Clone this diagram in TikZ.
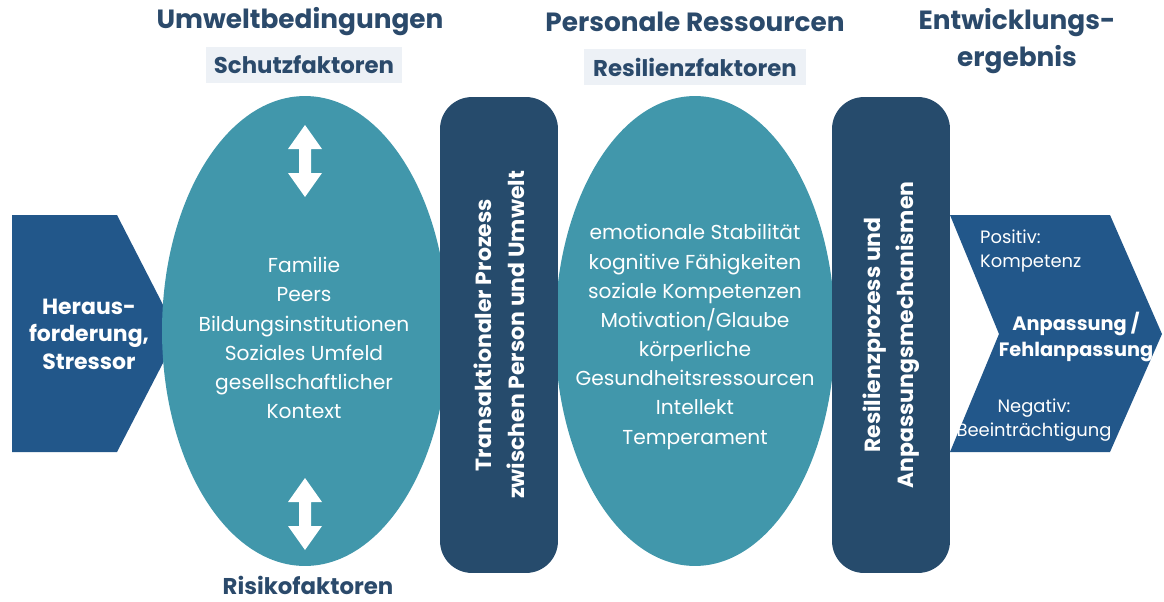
\documentclass[tikz,border=0pt]{standalone}
\usepackage{fontspec}
\setmainfont{Poppins}
\usetikzlibrary{shapes.geometric}
\definecolor{chevblue}{HTML}{22578A}
\definecolor{procblue}{HTML}{264B6C}
\definecolor{ovalteal}{HTML}{4197AB}
\definecolor{headblue}{HTML}{2B4A6B}
\definecolor{tagbg}{HTML}{EDF1F6}

\begin{document}
\begin{tikzpicture}[x=0.02cm, y=-0.02cm,
		head/.style={text=headblue, align=center, font=\fontsize{15}{21}\selectfont\bfseries},
		tag/.style={fill=tagbg, text=headblue, minimum height=0.72cm, font=\fontsize{13}{15}\selectfont\bfseries},
		oval/.style={ellipse, fill=ovalteal, minimum width=5.72cm, minimum height=9.4cm, inner sep=0pt},
		oneliner/.style={text=white, align=center, font=\fontsize{11.5}{16.6}\selectfont},
		proc/.style={fill=procblue, rounded corners=0.64cm, rotate=90, minimum width=9.52cm, minimum height=2.36cm,
			text=white, align=center, font=\fontsize{12.5}{18.7}\selectfont\bfseries},
		boldwhite/.style={text=white, align=center, font=\fontsize{11}{15.3}\selectfont\bfseries},
		smallwhite/.style={text=white, font=\fontsize{10.2}{13.6}\selectfont}]
	\useasboundingbox (0,0) rectangle (1164,602);
	% challenge arrow
	\fill[chevblue] (12,215) -- (117,215) -- (178,334) -- (117,452) -- (12,452) -- cycle;
	\node[boldwhite, font=\fontsize{12.5}{15.6}\selectfont\bfseries] (stressor) at (89,334) {Heraus-\\forderung,\\Stressor};
	% outcome chevron
	\fill[chevblue] (950,215) -- (1110,215) -- (1162,334) -- (1110,452) -- (950,452) -- (999,334) -- cycle;
	% ellipses
	\node[oval] (umwelt) at (305,331) {};
	\node[oval, minimum width=5.6cm] (person) at (695,331) {};
	\node[oneliner] (umweltlist) at (304,338)
		{Familie\\Peers\\Bildungsinstitutionen\\Soziales Umfeld\\gesellschaftlicher\\Kontext};
	\node[oneliner] (personlist) at (695,337)
		{emotionale Stabilität\\kognitive Fähigkeiten\\soziale Kompetenzen\\Motivation/Glaube\\körperliche\\Gesundheitsressourcen\\Intellekt\\Temperament};
	% double arrows
	\foreach \y [count=\i] in {125,478}
	{
		\fill[white] (305,\y) -- (322,\y+24) -- (311,\y+24) -- (311,\y+48) -- (322,\y+48) -- (305,\y+72)
			-- (288,\y+48) -- (299,\y+48) -- (299,\y+24) -- (288,\y+24) -- cycle;
	}
	% process bars
	\node[proc] (trans) at (499,335) {Transaktionaler Prozess\\zwischen Person und Umwelt};
	\node[proc] (resil) at (891,335) {Resilienzprozess und\\Anpassungsmechanismen};
	% outcome labels
	\node[smallwhite, align=left, anchor=west] (positiv) at (974,251) {Positiv:\\Kompetenz};
	\node[boldwhite] (anpassung) at (1076,337) {Anpassung /\\Fehlanpassung};
	\node[smallwhite, align=center] (negativ) at (1034,420) {Negativ:\\Beeinträchtigung};
	% headings
	\node[head] (umwelthead) at (300,22) {Umweltbedingungen};
	\node[tag, minimum width=3.94cm] (schutz) at (304,65) {Schutzfaktoren};
	\node[head] (personhead) at (695,22) {Personale Ressourcen};
	\node[tag, minimum width=4.46cm] (resilienz) at (695,67) {Resilienzfaktoren};
	\node[head] (ergebnis) at (1017,41) {Entwicklungs-\\ergebnis};
	\node[text=headblue, inner sep=0pt, font=\fontsize{13}{15}\selectfont\bfseries] (risiko) at (308,585) {Risikofaktoren};
\end{tikzpicture}
\end{document}
